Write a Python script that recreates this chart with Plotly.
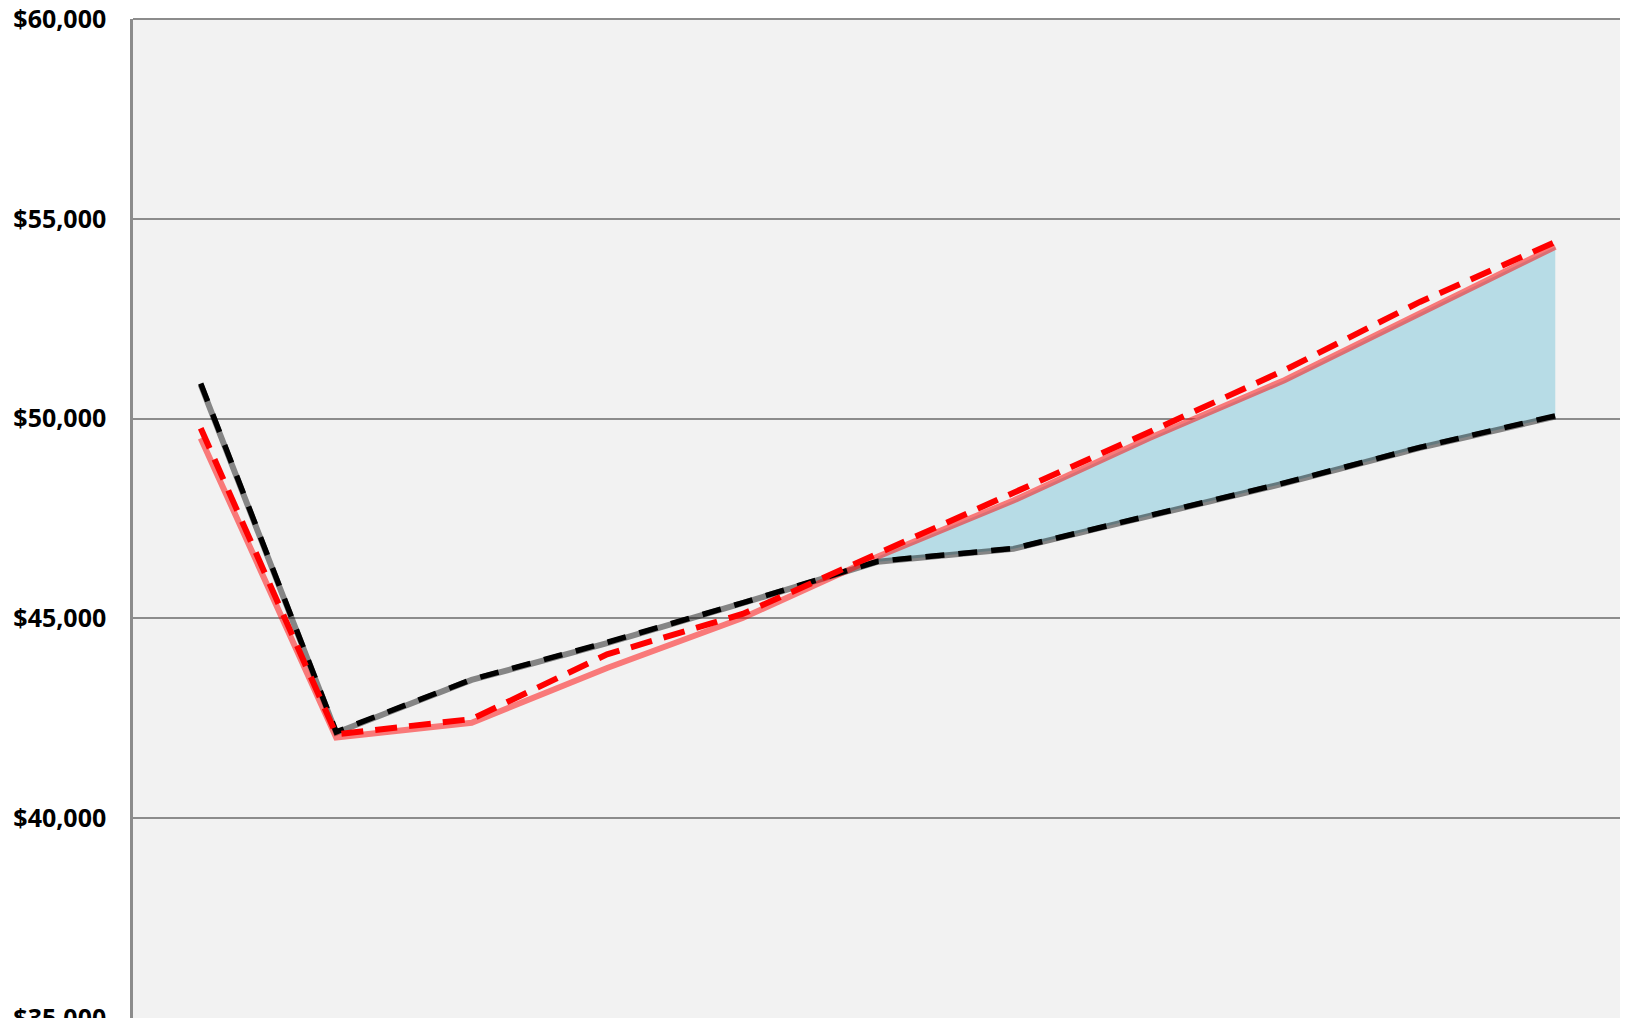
import plotly.graph_objects as go

# Category positions (x-axis labels are cut off in the reference)
periods = [0, 1, 2, 3, 4, 5, 6, 7, 8, 9, 10]

# Series values
gray_solid = [50850, 42140, 43460, 44380, 45380, 46420, 46740, 47570, 48380, 49270, 50050]
black_dashed = [50880, 42160, 43470, 44400, 45390, 46430, 46750, 47580, 48390, 49280, 50070]
pink_solid = [49510, 42020, 42390, 43760, 45010, 46550, 47950, 49510, 50960, 52640, 54300]
red_dashed = [49760, 42100, 42480, 44100, 45110, 46620, 48150, 49660, 51210, 52920, 54420]

# Shaded gap starts at this category index
fill_start = 5

y_ticks = [35000, 40000, 45000, 50000, 55000, 60000]
y_tick_labels = ["$35,000", "$40,000", "$45,000", "$50,000", "$55,000", "$60,000"]

fig = go.Figure()

# Shaded band between the two solid lines
fig.add_trace(go.Scatter(
    x=periods[fill_start:], y=gray_solid[fill_start:],
    mode="lines", line=dict(width=0, color="rgba(0,0,0,0)"),
    showlegend=False, hoverinfo="skip"))
fig.add_trace(go.Scatter(
    x=periods[fill_start:], y=pink_solid[fill_start:],
    mode="lines", line=dict(width=0, color="rgba(0,0,0,0)"),
    fill="tonexty", fillcolor="#b7dce6",
    showlegend=False, hoverinfo="skip"))

fig.add_trace(go.Scatter(
    x=periods, y=gray_solid, mode="lines",
    line=dict(color="rgba(0,0,0,0.45)", width=6),
    showlegend=False))
fig.add_trace(go.Scatter(
    x=periods, y=pink_solid, mode="lines",
    line=dict(color="rgba(255,0,0,0.5)", width=6),
    showlegend=False))
fig.add_trace(go.Scatter(
    x=periods, y=black_dashed, mode="lines",
    line=dict(color="#000000", width=5.5, dash="19px,14px"),
    showlegend=False))
fig.add_trace(go.Scatter(
    x=periods, y=red_dashed, mode="lines",
    line=dict(color="#ff0000", width=6, dash="22px,12px"),
    showlegend=False))

# the page body adds an 8px offset, so the figure is sized 1620x1010
fig.update_layout(
    width=1620, height=1010,
    margin=dict(l=125, r=5, t=11, b=0, autoexpand=False),
    paper_bgcolor="#ffffff",
    plot_bgcolor="#f2f2f2",
    font=dict(family="Open Sans", size=25, color="#000000"),
    xaxis=dict(
        range=[-0.5, 10.5], showticklabels=False, showgrid=False,
        zeroline=False, showline=False, ticks="", automargin=False),
    yaxis=dict(
        range=[35000, 60000], tickvals=y_ticks, ticktext=y_tick_labels,
        showgrid=True, gridcolor="#8c8c8c", gridwidth=1.8,
        zeroline=False, showline=True, linecolor="#8c8c8c", linewidth=2.5,
        ticks="", ticklabelstandoff=19, ticklabeloverflow="allow",
        automargin=False,
        tickfont=dict(family="Open Sans", size=25, color="#000000", weight="bold")),
)

# top frame line and dark right edge of the plot frame
fig.add_shape(type="line", xref="paper", yref="paper", x0=0, x1=1, y0=1, y1=1,
              line=dict(color="#8c8c8c", width=2))
fig.add_shape(type="line", xref="paper", yref="paper", x0=1, x1=1, y0=0, y1=1,
              line=dict(color="#000000", width=4))

fig.write_html("out.html")
